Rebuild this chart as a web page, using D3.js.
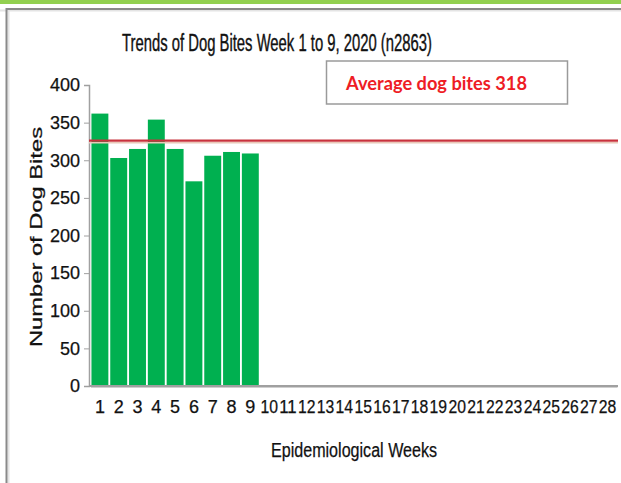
<!DOCTYPE html>
<html><head><meta charset="utf-8">
<script src="https://cdn.jsdelivr.net/npm/d3@7"></script>
<style>body{margin:0;background:#fff;}svg{display:block;}</style>
</head><body>
<svg id="c" width="621" height="483"></svg>
<script>
const weeks = d3.range(1, 29).map(String);
const dogBites = [362, 303, 315, 354, 315, 272, 306, 311, 309];
const yTicks = [0, 50, 100, 150, 200, 250, 300, 350, 400];
const averageLineValue = 326;
const titleText = "Trends of Dog Bites Week 1 to 9, 2020 (n2863)";
const legendText = "Average dog bites 318";
const xTitle = "Epidemiological Weeks";
const yTitle = "Number of Dog Bites";

const svg = d3.select("#c");
// page frame
svg.append("rect").attr("x",0).attr("y",0).attr("width",621).attr("height",4).attr("fill","#92d050");
svg.append("line").attr("x1",0).attr("x2",621).attr("y1",10.5).attr("y2",10.5).attr("stroke","#e4e4e4").attr("stroke-width",2);
svg.append("line").attr("x1",6).attr("x2",621).attr("y1",9).attr("y2",9).attr("stroke","#8a8a8a").attr("stroke-width",2);
svg.append("line").attr("x1",8.5).attr("x2",8.5).attr("y1",10).attr("y2",483).attr("stroke","#e4e4e4").attr("stroke-width",2);
svg.append("line").attr("x1",6.5).attr("x2",6.5).attr("y1",8).attr("y2",483).attr("stroke","#8a8a8a").attr("stroke-width",2);

const x = d3.scaleBand().domain(weeks).range([90.5, 617]).paddingInner(0.1).paddingOuter(0.05);
const y = d3.scaleLinear().domain([0, 400]).range([386, 85]);

// bars
svg.append("g").selectAll("rect").data(dogBites).join("rect")
  .attr("x", (d,i) => x(weeks[i]))
  .attr("width", x.bandwidth())
  .attr("y", d => y(d))
  .attr("height", d => y(0) - y(d))
  .attr("fill", "#00b050");

// y axis
const yAxis = svg.append("g").attr("transform","translate(89,0)")
  .call(d3.axisLeft(y).tickValues(yTicks).tickSize(5).tickPadding(4));
yAxis.select(".domain").attr("stroke","#a0a0a0").attr("stroke-width",1.5);
yAxis.selectAll(".tick line").attr("stroke","#a0a0a0");
yAxis.selectAll("text").attr("font-family","'Liberation Sans', Arial, sans-serif").attr("font-size",18)
  .attr("fill","#111").attr("stroke","#111").attr("stroke-width",0.25);

// x axis
const xAxis = svg.append("g").attr("transform","translate(0,386)")
  .call(d3.axisBottom(x).tickSize(0).tickPadding(14));
xAxis.select(".domain").attr("stroke","#a0a0a0").attr("stroke-width",2);
xAxis.selectAll("text").attr("font-family","'Liberation Sans', Arial, sans-serif").attr("font-size",18)
  .attr("textLength",17.5).attr("lengthAdjust","spacingAndGlyphs")
  .attr("fill","#111").attr("stroke","#111").attr("stroke-width",0.25);
xAxis.selectAll(".tick").filter(d => +d < 10).selectAll("text").attr("textLength",null);
svg.append("line").attr("x1",89).attr("x2",618).attr("y1",386).attr("y2",386).attr("stroke","#a0a0a0").attr("stroke-width",2);

// average line
svg.append("line").attr("x1",89).attr("x2",618).attr("y1",y(averageLineValue)+2).attr("y2",y(averageLineValue)+2)
  .attr("stroke","#e8c8b8").attr("stroke-width",1.5);
svg.append("line").attr("x1",89).attr("x2",618).attr("y1",y(averageLineValue)).attr("y2",y(averageLineValue))
  .attr("stroke","#c8323c").attr("stroke-width",2.2);

// title
svg.append("text").attr("x",277).attr("y",51).attr("text-anchor","middle")
  .attr("font-family","'Liberation Sans Narrow','Liberation Sans', Arial, sans-serif").attr("font-size",23)
  .attr("textLength",310).attr("lengthAdjust","spacingAndGlyphs")
  .attr("fill","#111").attr("stroke","#111").attr("stroke-width",0.4).text(titleText);

// legend box
svg.append("rect").attr("x",326.5).attr("y",61).attr("width",241).attr("height",43)
  .attr("fill","#fff").attr("stroke","#9a9a9a").attr("stroke-width",1.5);
svg.append("text").attr("x",346).attr("y",90)
  .attr("font-family","Lato, 'Open Sans', sans-serif").attr("font-weight","bold").attr("font-size",18)
  .attr("textLength",181).attr("lengthAdjust","spacingAndGlyphs").attr("fill","#ee1c25").text(legendText);

// axis titles
svg.append("text").attr("x",354).attr("y",457).attr("text-anchor","middle")
  .attr("font-family","'Liberation Sans Narrow','Liberation Sans', Arial, sans-serif").attr("font-size",20)
  .attr("textLength",166).attr("lengthAdjust","spacingAndGlyphs")
  .attr("fill","#111").attr("stroke","#111").attr("stroke-width",0.25).text(xTitle);
svg.append("text").attr("transform","translate(42,237) rotate(-90)").attr("text-anchor","middle")
  .attr("font-family","'Liberation Sans', Arial, sans-serif").attr("font-size",17)
  .attr("textLength",220).attr("lengthAdjust","spacingAndGlyphs")
  .attr("fill","#111").attr("stroke","#111").attr("stroke-width",0.25).text(yTitle);
</script>
</body></html>
